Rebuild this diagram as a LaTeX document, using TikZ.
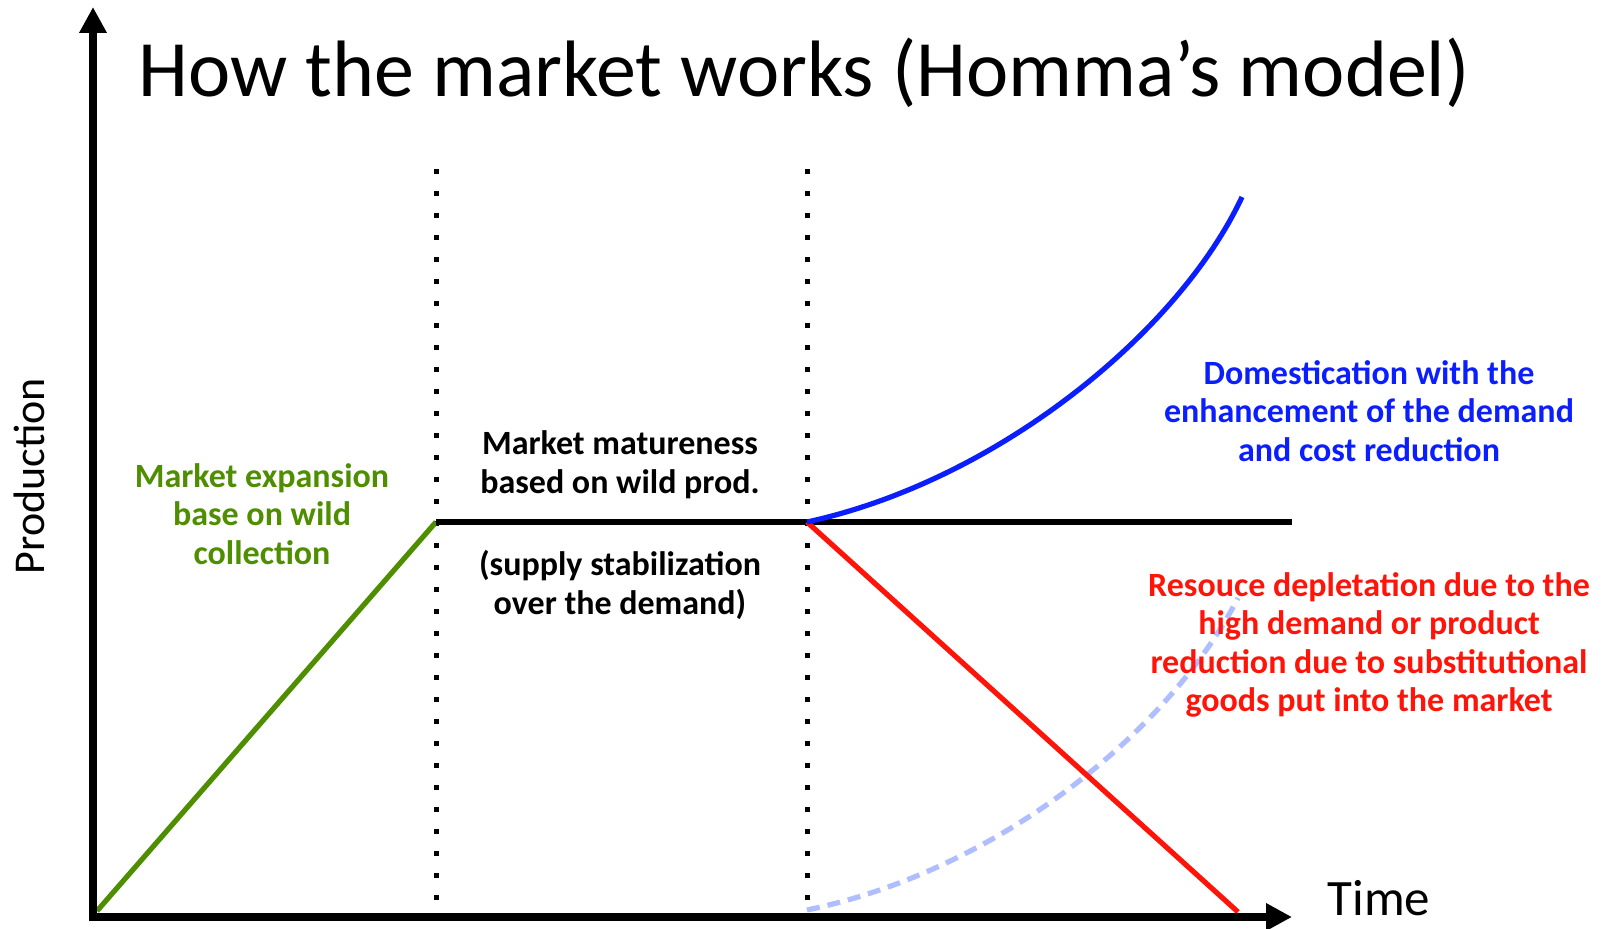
\documentclass[tikz,border=0pt]{standalone}
\usepackage{fontspec}
\setmainfont{Carlito}
\usepackage{tikz}
\usetikzlibrary{arrows.meta}

\definecolor{wildgreen}{RGB}{78,142,0}
\definecolor{domblue}{RGB}{10,30,255}
\definecolor{depred}{RGB}{255,20,10}
\definecolor{paleblue}{RGB}{175,190,255}

\begin{document}
\begin{tikzpicture}[x=0.5pt,y=-0.5pt,>={Triangle[length=13pt,width=13pt]},
                    line width=2.6pt,
                    axis/.style={line width=4pt,line join=miter},
                    guide/.style={line width=2.5pt,dash pattern=on 2.5pt off 8.5pt},
                    lbl/.style={font=\fontsize{17}{19.3}\selectfont\bfseries,align=center}]

 \useasboundingbox (0,0) rectangle (1602,929);

  \coordinate (ytop) at (93,7);
  \coordinate (o) at (93,917);
  \coordinate (xend) at (1292,917);
  \coordinate (start) at (97,911);
  \coordinate (mature) at (436,522);
  \coordinate (split) at (807,522);
  \coordinate (flat) at (1292,522);
  \coordinate (dom) at (1242,197);
  \coordinate (dep) at (1238,912);
  \coordinate (sub0) at (807,910);
  \coordinate (sub) at (1238,598);
  \coordinate (g1a) at (436,169.5);
  \coordinate (g1b) at (436,912);
  \coordinate (g2a) at (807,169.5);
  \coordinate (g2b) at (807,912);

  % phase borders
  \draw[guide] (g1a) -- (g1b);
  \draw[guide] (g2a) -- (g2b);

  % curves
  \draw[paleblue,dash pattern=on 6.5pt off 4pt] (sub0) .. controls (1000,870) and (1170,730) .. (sub);
  \draw[wildgreen] (start) -- (mature);
  \draw (mature) -- (flat);
  \draw[depred] (split) -- (dep);
  \draw[domblue] (split) .. controls (1000,480) and (1180,330) .. (dom);

  \draw[axis,<->] (ytop) -- (o) -- (xend);

  \node[font=\fontsize{40}{48}\selectfont,anchor=base] (title) at (804,97) {How the market works (Homma’s model)};
  \node[font=\fontsize{25.5}{30}\selectfont,anchor=base west,inner sep=0pt] (time) at (1325,916) {Time};
  \node[font=\fontsize{22}{26}\selectfont,rotate=90,anchor=base] (prod) at (45,476) {Production};

  \node[lbl,text=wildgreen] (expand) at (262,514) {Market expansion\\base on wild\\collection};
  \node[lbl] (matur) at (620,465) {Market matureness\\based on wild prod.};
  \node[lbl] (stab) at (620,585) {(supply stabilization\\over the demand)};
  \node[lbl,text=domblue] (domtxt) at (1369,411) {Domestication with the\\enhancement of the demand\\and cost reduction};
  \node[lbl,text=depred] (deptxt) at (1369,645) {Resouce depletation due to the\\high demand or product\\reduction due to substitutional\\goods put into the market};

\end{tikzpicture}
\end{document}
